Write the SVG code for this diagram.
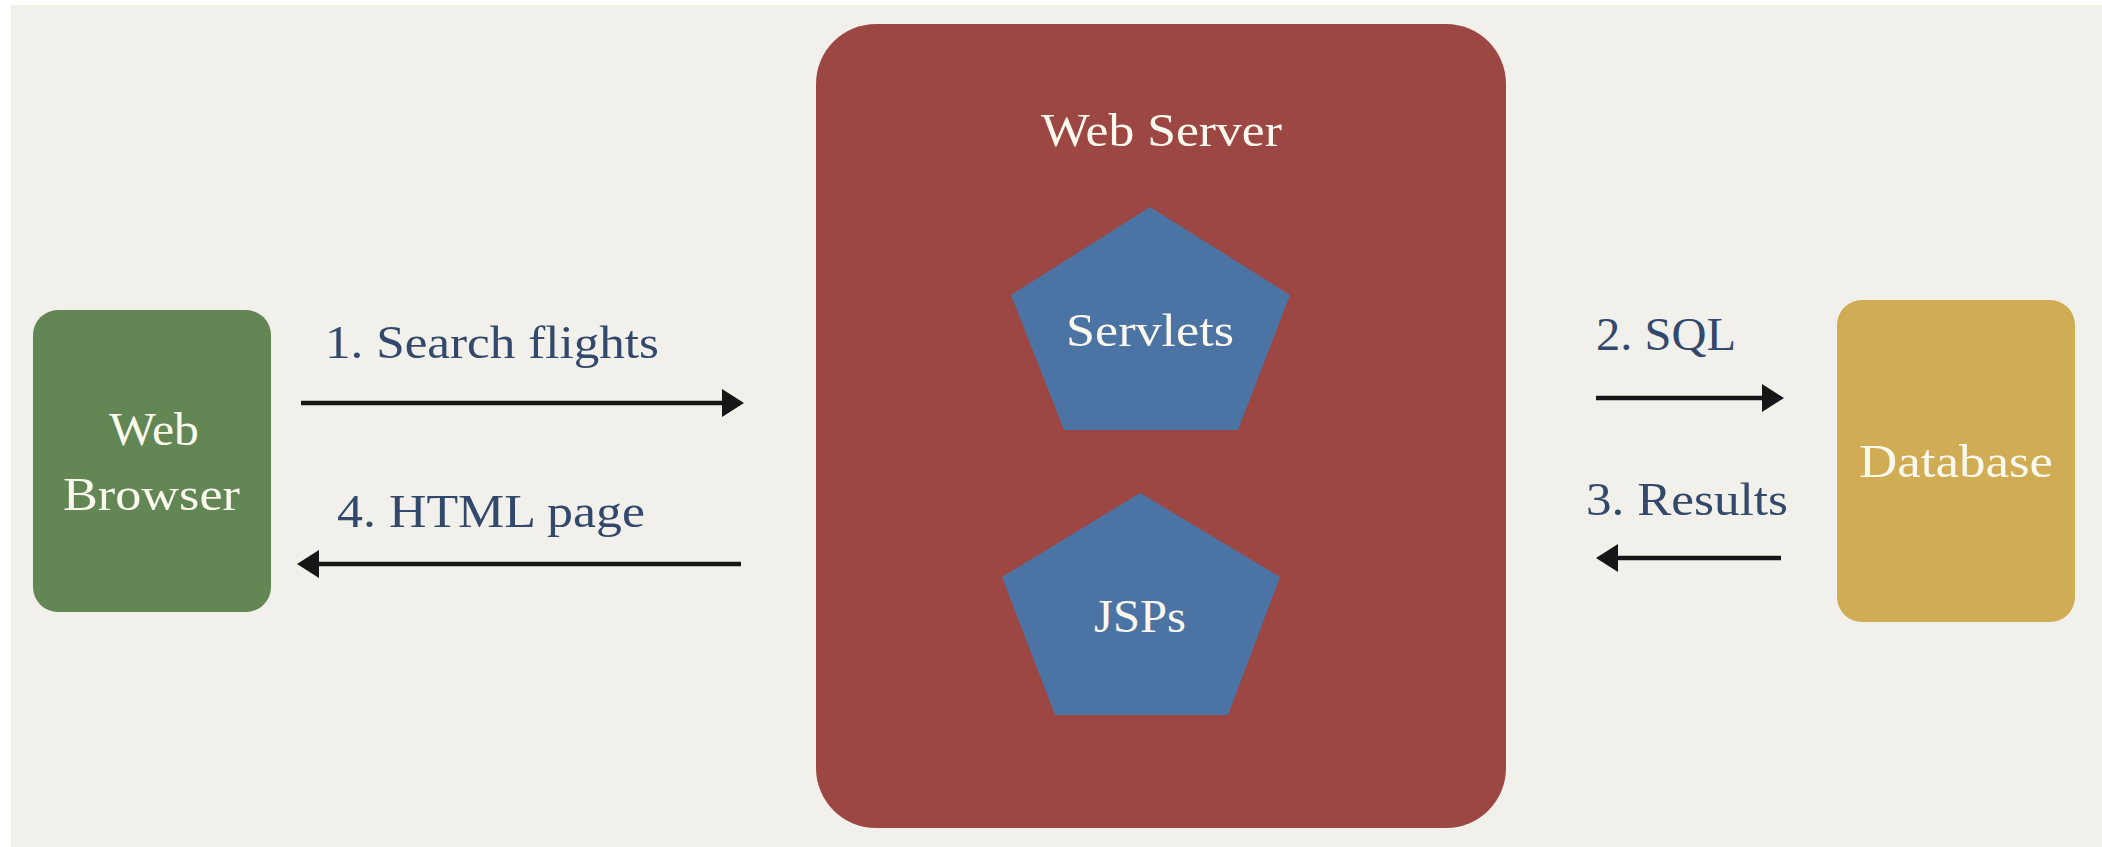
<svg xmlns="http://www.w3.org/2000/svg" width="2102" height="847" viewBox="0 0 2102 847">
  <style>
    .lbl { font-family: "Liberation Serif", "Times New Roman", serif; font-size: 46px; fill: #33496b; }
    .wt { font-family: "Liberation Serif", "Times New Roman", serif; font-size: 46px; fill: #fbf8ee; }
    .conn { stroke: #161616; stroke-width: 4.5; fill: none; marker-end: url(#head); }
  </style>
  <defs>
    <marker id="head" markerUnits="userSpaceOnUse" markerWidth="24" markerHeight="30" refX="0" refY="14" orient="auto">
      <path d="M0,0 L22,14 L0,28 Z" fill="#161616"/>
    </marker>
  </defs>
  <rect x="0" y="0" width="2102" height="847" fill="#ffffff"/>
  <rect x="11" y="5" width="2091" height="842" fill="#f2f0eb"/>

  <g id="web-browser">
    <rect x="33" y="310" width="238" height="302" rx="25" fill="#628654"/>
    <text class="wt" x="109" y="445" textLength="90" lengthAdjust="spacingAndGlyphs">Web</text>
    <text class="wt" x="63" y="510" textLength="177" lengthAdjust="spacingAndGlyphs">Browser</text>
  </g>

  <g id="web-server">
    <rect x="816" y="24" width="690" height="804" rx="60" fill="#9d4744"/>
    <text class="wt" x="1041" y="146" textLength="241" lengthAdjust="spacingAndGlyphs">Web Server</text>
  </g>

  <g id="servlets">
    <polygon points="1150,207 1290,295 1238,430 1064,430 1011,295" fill="#4b74a4"/>
    <text class="wt" x="1066" y="346" textLength="168" lengthAdjust="spacingAndGlyphs">Servlets</text>
  </g>

  <g id="jsps">
    <polygon points="1140,493 1280,577 1228,715 1055,715 1002,577" fill="#4b74a4"/>
    <text class="wt" x="1094" y="632" textLength="92" lengthAdjust="spacingAndGlyphs">JSPs</text>
  </g>

  <g id="database">
    <rect x="1837" y="300" width="238" height="322" rx="25" fill="#d0ac55"/>
    <text class="wt" x="1859" y="477" textLength="194" lengthAdjust="spacingAndGlyphs">Database</text>
  </g>

  <g id="connectors">
    <line class="conn" x1="301" y1="403" x2="722" y2="403"/>
    <line class="conn" x1="741" y1="564" x2="319" y2="564"/>
    <line class="conn" x1="1596" y1="398" x2="1762" y2="398"/>
    <line class="conn" x1="1781" y1="558" x2="1618" y2="558"/>
    <text class="lbl" x="325" y="358" textLength="334" lengthAdjust="spacingAndGlyphs">1. Search flights</text>
    <text class="lbl" x="337" y="527" textLength="308" lengthAdjust="spacingAndGlyphs">4. HTML page</text>
    <text class="lbl" x="1596" y="350" textLength="140" lengthAdjust="spacingAndGlyphs">2. SQL</text>
    <text class="lbl" x="1586" y="515" textLength="202" lengthAdjust="spacingAndGlyphs">3. Results</text>
  </g>
</svg>
